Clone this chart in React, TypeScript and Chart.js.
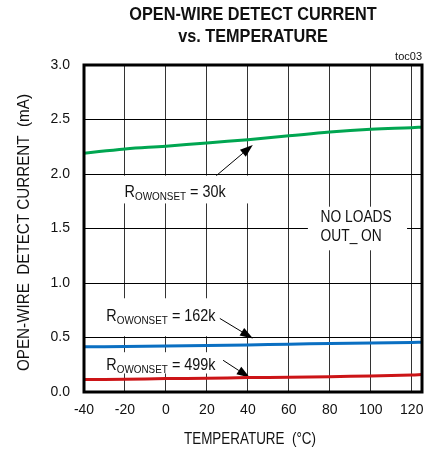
import React, { useEffect, useRef } from "react";
import { Chart, registerables } from "chart.js";

Chart.register(...registerables);

const TEMPERATURE_C = [-40, -20, 0, 20, 40, 60, 80, 100, 120, 125];
const CURRENT_30K = [2.19, 2.23, 2.255, 2.285, 2.315, 2.35, 2.385, 2.41, 2.425, 2.43];
const CURRENT_162K = [0.414, 0.417, 0.423, 0.426, 0.432, 0.438, 0.445, 0.45, 0.454, 0.457];
const CURRENT_499K = [0.114, 0.117, 0.123, 0.126, 0.132, 0.135, 0.141, 0.147, 0.156, 0.16];
const X_TICK_VALUES = [-40, -20, 0, 20, 40, 60, 80, 100, 120];
const Y_TICK_VALUES = [0, 0.5, 1, 1.5, 2, 2.5, 3];
const TITLE_LINES = ["OPEN-WIRE DETECT CURRENT", "vs. TEMPERATURE"];
const X_TITLE = "TEMPERATURE  (°C)";
const Y_TITLE = "OPEN-WIRE  DETECT CURRENT  (mA)";
const TAG = "toc03";
const NOTE_LINES = ["NO LOADS", "OUT_ ON"];
const R_LABELS = ["= 30k", "= 162k", "= 499k"];

const SANS = "'Liberation Sans', Arial, sans-serif";

// annotation placement in data coordinates
const WHITE_BOXES = [
  { x0: -32.5, x1: 43.5, y0: 1.73, y1: 1.985 },
  { x0: 69.3, x1: 117.7, y0: 1.3, y1: 1.7 },
  { x0: -32.5, x1: 28.7, y0: 0.512, y1: 0.86 },
  { x0: -32.5, x1: 28.7, y0: 0.17, y1: 0.365 },
];
const R_LABEL_POS = [
  { x: -20.2, y: 1.826 },
  { x: -29.1, y: 0.689 },
  { x: -29.1, y: 0.245 },
];
const ARROWS = [
  { x0: 24.6, y0: 1.985, x1: 42.4, y1: 2.267 },
  { x0: 26.3, y0: 0.675, x1: 42.5, y1: 0.491 },
  { x0: 27.9, y0: 0.291, x1: 40.9, y1: 0.132 },
];
const NOTE_POS = { x: 75.5, y: [1.596, 1.422] };

function drawArrow(ctx: CanvasRenderingContext2D, x0: number, y0: number, x1: number, y1: number) {
  const ang = Math.atan2(y1 - y0, x1 - x0);
  const len = 13;
  const hw = 4.5;
  const bx = x1 - len * Math.cos(ang);
  const by = y1 - len * Math.sin(ang);
  ctx.strokeStyle = "#000";
  ctx.lineWidth = 1;
  ctx.beginPath();
  ctx.moveTo(x0, y0);
  ctx.lineTo(bx, by);
  ctx.stroke();
  ctx.fillStyle = "#000";
  ctx.beginPath();
  ctx.moveTo(x1, y1);
  ctx.lineTo(bx + hw * Math.sin(ang), by - hw * Math.cos(ang));
  ctx.lineTo(bx - hw * Math.sin(ang), by + hw * Math.cos(ang));
  ctx.closePath();
  ctx.fill();
}

// draws text horizontally condensed; returns advance width
function narrowText(ctx: CanvasRenderingContext2D, text: string, x: number, y: number, font: string, sx: number) {
  ctx.save();
  ctx.font = font;
  ctx.translate(x, y);
  ctx.scale(sx, 1);
  ctx.fillText(text, 0, 0);
  const w = ctx.measureText(text).width * sx;
  ctx.restore();
  return w;
}

const overlayPlugin = {
  id: "overlay",
  beforeDatasetsDraw(chart: any) {
    const { ctx, scales } = chart;
    const xs = scales.x;
    const ys = scales.y;
    ctx.save();
    ctx.fillStyle = "#fff";
    for (const b of WHITE_BOXES) {
      const px0 = xs.getPixelForValue(b.x0);
      const px1 = xs.getPixelForValue(b.x1);
      const py0 = ys.getPixelForValue(b.y1);
      const py1 = ys.getPixelForValue(b.y0);
      ctx.fillRect(px0, py0, px1 - px0, py1 - py0);
    }
    ctx.fillStyle = "#111";
    ctx.textBaseline = "middle";
    ctx.textAlign = "left";
    R_LABELS.forEach((txt, i) => {
      let px = xs.getPixelForValue(R_LABEL_POS[i].x);
      const py = ys.getPixelForValue(R_LABEL_POS[i].y);
      px += narrowText(ctx, "R", px, py, `16px ${SANS}`, 0.9);
      px += narrowText(ctx, "OWONSET", px, py + 4.5, `11px ${SANS}`, 0.9);
      narrowText(ctx, " " + txt, px, py, `16px ${SANS}`, 0.9);
    });
    NOTE_LINES.forEach((t, i) => {
      narrowText(ctx, t, xs.getPixelForValue(NOTE_POS.x), ys.getPixelForValue(NOTE_POS.y[i]), `16px ${SANS}`, 0.86);
    });
    for (const a of ARROWS) {
      drawArrow(
        ctx,
        xs.getPixelForValue(a.x0),
        ys.getPixelForValue(a.y0),
        xs.getPixelForValue(a.x1),
        ys.getPixelForValue(a.y1)
      );
    }
    ctx.restore();
  },
  afterDatasetsDraw(chart: any) {
    const { ctx, chartArea: a } = chart;
    ctx.save();
    ctx.strokeStyle = "#000";
    ctx.lineWidth = 3;
    ctx.strokeRect(a.left, a.top, a.right - a.left, a.bottom - a.top);
    ctx.restore();
  },
  afterDraw(chart: any) {
    const { ctx, chartArea: a } = chart;
    const cx = (a.left + a.right) / 2;
    const cy = (a.top + a.bottom) / 2;
    ctx.save();
    ctx.fillStyle = "#111";
    ctx.textAlign = "center";
    ctx.textBaseline = "middle";
    narrowText(ctx, TITLE_LINES[0], cx, 15, `bold 19px ${SANS}`, 0.855);
    narrowText(ctx, TITLE_LINES[1], cx, 37, `bold 19px ${SANS}`, 0.855);
    narrowText(ctx, X_TITLE, cx - 3, 440, `16px ${SANS}`, 0.84);
    ctx.save();
    ctx.translate(25, cy + 4);
    ctx.rotate(-Math.PI / 2);
    narrowText(ctx, Y_TITLE, 0, 0, `16px ${SANS}`, 0.95);
    ctx.restore();
    ctx.textAlign = "right";
    ctx.font = `11px ${SANS}`;
    ctx.fillText(TAG, a.right, a.top - 8);
    ctx.restore();
  },
};

export default function App() {
  const ref = useRef<HTMLCanvasElement | null>(null);
  useEffect(() => {
    if (!ref.current) return;
    const pts = (ys: number[]) => TEMPERATURE_C.map((t, i) => ({ x: t, y: ys[i] }));
    const line = (data: number[], color: string) => ({
      data: pts(data),
      borderColor: color,
      borderWidth: 3,
      pointRadius: 0,
      tension: 0.4,
      fill: false,
    });
    const chart = new Chart(ref.current, {
      type: "line",
      data: {
        datasets: [
          line(CURRENT_30K, "#00a651"),
          line(CURRENT_162K, "#0a6fc2"),
          line(CURRENT_499K, "#cc1417"),
        ],
      },
      options: {
        animation: false,
        responsive: false,
        devicePixelRatio: 1,
        layout: { padding: { top: 65, right: 12, bottom: 0, left: 0 } },
        plugins: { legend: { display: false }, tooltip: { enabled: false }, title: { display: false } },
        scales: {
          x: {
            type: "linear",
            min: -40,
            max: 125,
            afterBuildTicks: (s: any) => {
              s.ticks = X_TICK_VALUES.map((v) => ({ value: v }));
            },
            afterFit: (s: any) => {
              s.height = 62;
            },
            grid: { color: "#333", lineWidth: 1, drawTicks: false },
            border: { display: false },
            ticks: {
              padding: 10,
              color: "#111",
              font: { family: SANS, size: 14 },
              callback: (v: any) => String(v),
            },
          },
          y: {
            type: "linear",
            min: 0,
            max: 3,
            afterBuildTicks: (s: any) => {
              s.ticks = Y_TICK_VALUES.map((v) => ({ value: v }));
            },
            afterFit: (s: any) => {
              s.width = 84;
            },
            grid: { color: "#000", lineWidth: 1, drawTicks: false },
            border: { display: false },
            ticks: {
              padding: 14,
              color: "#111",
              font: { family: SANS, size: 14 },
              callback: (v: any) => Number(v).toFixed(1),
            },
          },
        },
      },
      plugins: [overlayPlugin],
    } as any);
    return () => chart.destroy();
  }, []);
  return (
    <div style={{ position: "fixed", left: 0, top: 0, width: 434, height: 454, background: "#fff" }}>
      <canvas ref={ref} width={434} height={454} style={{ width: 434, height: 454, display: "block" }} />
    </div>
  );
}
